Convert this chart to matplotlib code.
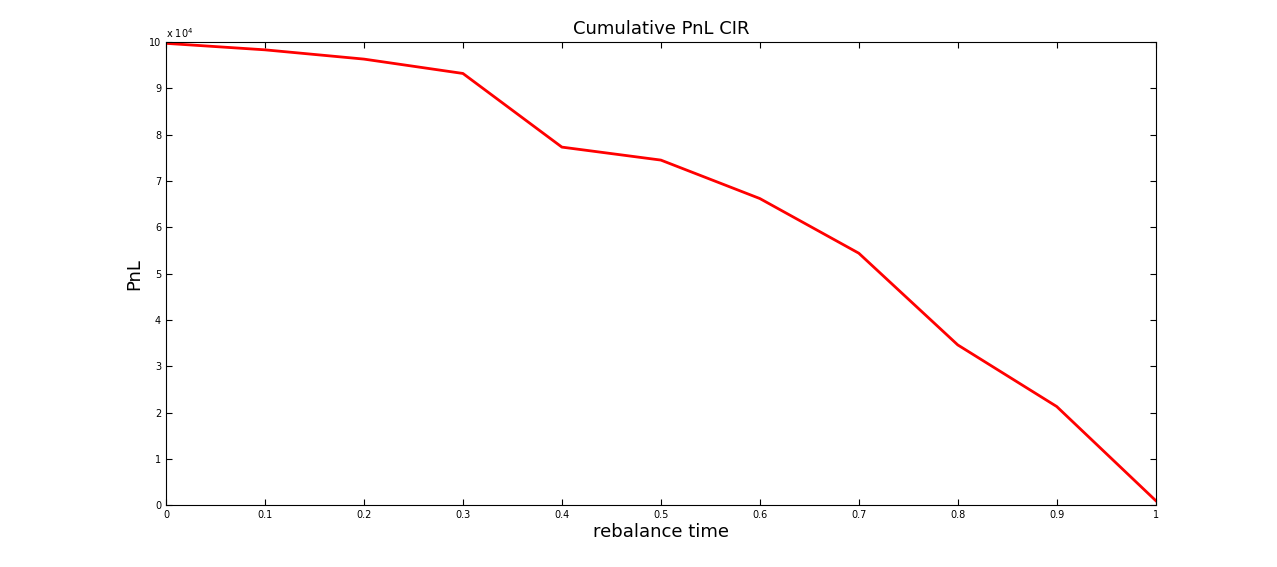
import numpy as np
import matplotlib.pyplot as plt

rebalance_time = [0.0, 0.1, 0.2, 0.3, 0.4, 0.5, 0.6, 0.7, 0.8, 0.9, 1.0]
pnl = [99700, 98300, 96300, 93200, 77300, 74500, 66200, 54400, 34600, 21300, 1000]

fig = plt.figure(figsize=(12.77, 5.67), dpi=100)
ax = fig.add_axes([0.13, 0.109, 0.775, 0.817])
ax.plot(rebalance_time, np.array(pnl) / 1e4, color='red', linewidth=2)
ax.set_xlim(0, 1)
ax.set_ylim(0, 10)
ax.set_xticks(np.arange(0, 1.01, 0.1))
ax.set_xticklabels(['0', '0.1', '0.2', '0.3', '0.4', '0.5', '0.6', '0.7', '0.8', '0.9', '1'])
ax.set_yticks(range(0, 11))
ax.tick_params(direction='in', top=True, right=True, labelsize=7, length=4)
ax.text(0.0, 1.005, r'x 10$^4$', transform=ax.transAxes, fontsize=7, va='bottom')
ax.set_title('Cumulative PnL CIR', fontsize=13)
ax.set_xlabel('rebalance time', fontsize=13, labelpad=2)
ax.set_ylabel('PnL', fontsize=13)
fig.savefig('out.png', dpi=100, facecolor='white')
